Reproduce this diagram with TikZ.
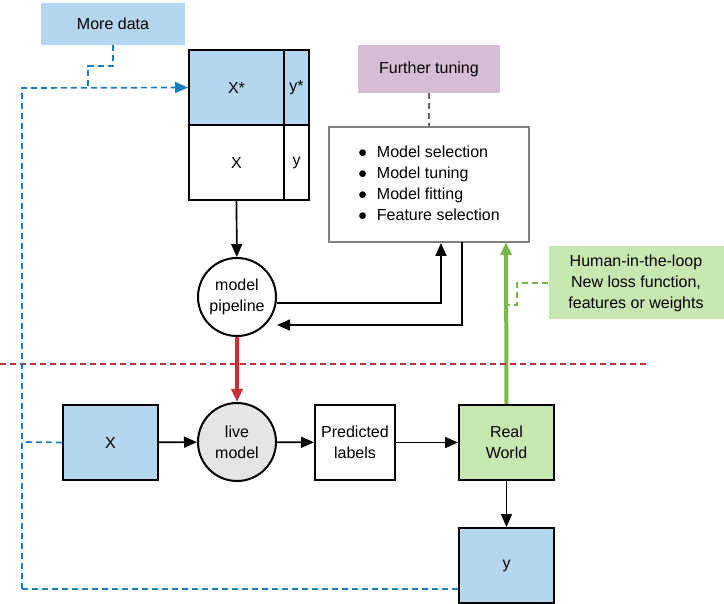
\documentclass[tikz,border=0pt]{standalone}
\usepackage{fontspec}
\setmainfont{Liberation Sans}
\usetikzlibrary{arrows.meta}
\definecolor{dblue}{HTML}{B4D6EF}
\definecolor{lblue}{HTML}{1A7DBF}
\definecolor{dgreen}{HTML}{C7E8B1}
\definecolor{lgreen}{HTML}{7AB648}
\definecolor{dpurple}{HTML}{D5BDD5}
\definecolor{lred}{HTML}{C92D39}
\begin{document}
\begin{tikzpicture}[x=1pt,y=-1pt,font=\fontsize{16}{21}\selectfont]
\tikzset{box/.style = {draw,line width=2pt,minimum width=95pt,minimum height=75pt,inner sep=0pt}}
\tikzset{note/.style = {inner sep=0pt,align=center}}
\tikzset{model/.style = {shape=circle,draw,line width=2pt,minimum size=78pt,inner sep=0pt,align=center}}
\tikzset{edge/.style = {-{Triangle[length=13pt,width=11pt]},line width=1.7pt}}
\tikzset{link/.style = {dashed,line width=1.7pt,dash pattern=on 6pt off 4pt}}
\useasboundingbox (0,0) rectangle (724,604);
% notes
\node[note,fill=dblue,minimum width=144pt,minimum height=42pt] (more) at (113,24) {More data};
\node[note,fill=dpurple,minimum width=142pt,minimum height=48pt] (tune) at (429,69) {Further tuning};
\node[note,fill=dgreen,minimum width=175pt,minimum height=73pt] (human) at (636,283)
  {Human-in-the-loop\\New loss function,\\features or weights};
% table
\node[box,fill=dblue] (xs) at (236.5,87.5) {X*};
\node[box,fill=dblue,minimum width=25pt] (ys) at (296.5,87.5) {y*};
\node[box] (xt) at (236.5,162.5) {X};
\node[box,minimum width=25pt] (yt) at (296.5,162.5) {y};
% tuning list
\node[draw=gray,line width=2pt,minimum width=200pt,minimum height=115pt,inner sep=0pt] (list) at (429,184.5)
  {\begin{tabular}{@{}l@{\hspace{10pt}}l@{}}
   $\bullet$ & Model selection\\ $\bullet$ & Model tuning\\
   $\bullet$ & Model fitting\\ $\bullet$ & Feature selection\end{tabular}};
% models
\node[model] (pipe) at (237,297) {model\\pipeline};
\node[model,fill=gray!20] (live) at (237,442) {live\\model};
\node[box,fill=dblue] (x) at (110.5,442.5) {X};
\node[box,minimum width=80pt,align=center] (pred) at (355,442.5) {Predicted\\labels};
\node[box,fill=dgreen,align=center] (world) at (506.5,442.5) {Real\\World};
\node[box,fill=dblue] (y) at (506.5,565.5) {y};
\coordinate (c1) at (22,88);
\coordinate (c2) at (22,589);
% edges
\draw[edge] (xt.south) -- (pipe);
\draw[edge] (pipe.east |- 0,303) -| (441,243);
\draw[edge] (462,242) |- (pipe.east |- 0,325);
\draw[edge,lred,line width=4pt] (pipe) -- (live);
\draw[edge,lgreen,line width=4pt] (world.north) -- (506,242);
\draw[edge] (x) -- (live);
\draw[edge] (live) -- (pred);
\draw[edge] (pred) -- (world);
\draw[edge] (world) -- (y);
\draw[link,lred,line width=1.2pt] (0,364) -- (650,364);
\draw[link,dpurple!50!black,line width=1.2pt] (tune) -- (list);
\draw[link,lgreen,line width=1.2pt] (human.west) -| (517,305) -- (506,305);
\draw[link,lblue] (more.south) |- (88,66) -- (88,88);
\draw[link,lblue,-{Triangle[length=13pt,width=11pt]}] (c2) -- (c1) -- (xs.west);
\draw[link,lblue] (x.west) -- (22,442);
\draw[link,lblue] (y.west |- c2) -- (c2);
\end{tikzpicture}
\end{document}
